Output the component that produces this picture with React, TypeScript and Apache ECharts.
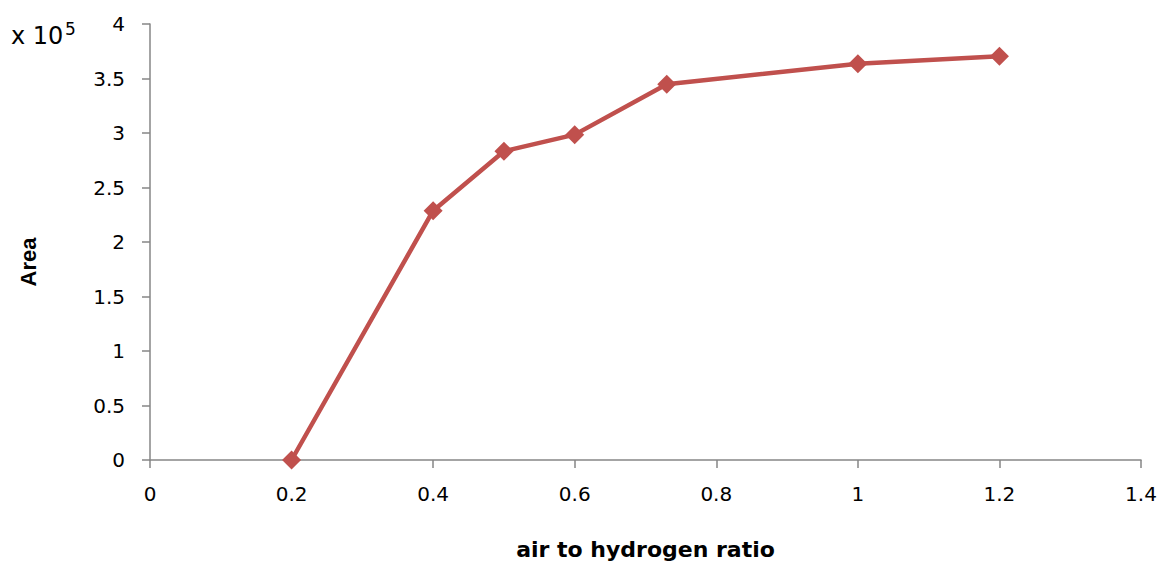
import React, { useEffect, useRef } from "react";
import * as echarts from "echarts";

const ratios = [0.2, 0.4, 0.5, 0.6, 0.73, 1.0, 1.2];
const areas = [0, 2.287, 2.833, 2.985, 3.448, 3.636, 3.705];

export default function App() {
  const ref = useRef<HTMLDivElement>(null);
  useEffect(() => {
    if (!ref.current) return;
    const chart = echarts.init(ref.current, null, { renderer: "svg" });
    const tickFont = { color: "#000", fontSize: 20, fontFamily: "'DejaVu Sans', sans-serif" };
    chart.setOption({
      animation: false,
      backgroundColor: "#fff",
      grid: { left: 150, right: 19, top: 24, bottom: 101, containLabel: false },
      xAxis: {
        type: "value",
        min: 0,
        max: 1.4,
        interval: 0.2,
        name: "air to hydrogen ratio",
        nameLocation: "middle",
        nameGap: 78,
        nameTextStyle: { color: "#000", fontSize: 22, fontWeight: "bold", fontFamily: "'DejaVu Sans', sans-serif" },
        axisLine: { lineStyle: { color: "#868686", width: 1.5 } },
        axisTick: { show: true, inside: false, length: 8, lineStyle: { color: "#868686", width: 1.5 } },
        axisLabel: { ...tickFont, margin: 24 },
        splitLine: { show: false },
      },
      yAxis: {
        type: "value",
        min: 0,
        max: 4,
        interval: 0.5,
        axisLine: { show: true, lineStyle: { color: "#868686", width: 1.5 } },
        axisTick: { show: true, inside: false, length: 8, lineStyle: { color: "#868686", width: 1.5 } },
        axisLabel: { ...tickFont, margin: 25 },
        splitLine: { show: false },
      },
      graphic: [
        {
          type: "text",
          x: 28,
          y: 262,
          rotation: Math.PI / 2,
          style: {
            text: "Area",
            fill: "#000",
            fontSize: 22,
            fontWeight: "bold",
            fontFamily: "'Liberation Sans', Arial, sans-serif",
            align: "center",
            verticalAlign: "middle",
          },
        },
        {
          type: "text",
          x: 11,
          y: 36,
          style: {
            text: "x 10",
            fill: "#000",
            fontSize: 24,
            fontFamily: "'DejaVu Sans', sans-serif",
            align: "left",
            verticalAlign: "middle",
          },
        },
        {
          type: "text",
          x: 65,
          y: 29,
          style: {
            text: "5",
            fill: "#000",
            fontSize: 17,
            fontFamily: "'DejaVu Sans', sans-serif",
            align: "left",
            verticalAlign: "middle",
          },
        },
      ],
      series: [
        {
          type: "line",
          data: ratios.map((r, i) => [r, areas[i]]),
          lineStyle: { color: "#C0504D", width: 4.5 },
          itemStyle: { color: "#C0504D" },
          symbol: "diamond",
          symbolSize: 19,
          showSymbol: true,
        },
      ],
    });
    return () => chart.dispose();
  }, []);
  return (
    <div
      ref={ref}
      style={{ position: "absolute", left: 0, top: 0, width: 1160, height: 565 }}
    />
  );
}
